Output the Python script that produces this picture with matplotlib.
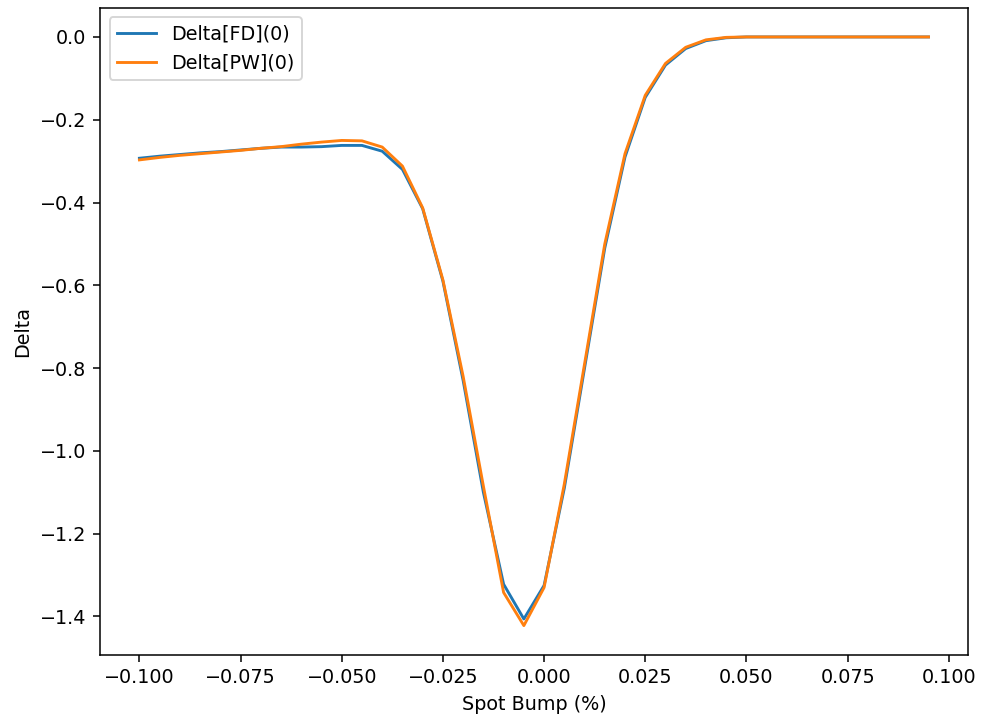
import numpy as np
import matplotlib.pyplot as plt

# spot bumps (%)
bumps = [-0.100, -0.095, -0.090, -0.085, -0.080, -0.075, -0.070, -0.065,
         -0.060, -0.055, -0.050, -0.045, -0.040, -0.035, -0.030, -0.025,
         -0.020, -0.015, -0.010, -0.005, 0.000, 0.005, 0.010, 0.015,
         0.020, 0.025, 0.030, 0.035, 0.040, 0.045, 0.050, 0.055,
         0.060, 0.065, 0.070, 0.075, 0.080, 0.085, 0.090, 0.095]

delta_fd = [-0.293, -0.288, -0.284, -0.280, -0.277, -0.273, -0.269, -0.266,
            -0.266, -0.265, -0.262, -0.262, -0.276, -0.320, -0.415, -0.590,
            -0.830, -1.100, -1.322, -1.406, -1.325, -1.090, -0.800, -0.510,
            -0.290, -0.146, -0.068, -0.028, -0.009, -0.002, 0.000, 0.000,
            0.000, 0.000, 0.000, 0.000, 0.000, 0.000, 0.000, 0.000]

delta_pw = [-0.297, -0.291, -0.286, -0.282, -0.278, -0.274, -0.269, -0.265,
            -0.259, -0.254, -0.250, -0.251, -0.266, -0.312, -0.413, -0.587,
            -0.820, -1.085, -1.342, -1.422, -1.330, -1.080, -0.790, -0.500,
            -0.282, -0.141, -0.064, -0.025, -0.007, -0.001, 0.000, 0.000,
            0.000, 0.000, 0.000, 0.000, 0.000, 0.000, 0.000, 0.000]

DPI = 138
fig = plt.figure(figsize=(982 / DPI, 723 / DPI), dpi=DPI)
ax = fig.add_axes([0.1018, 0.094, 0.8839, 0.8956])
ax.plot(bumps, delta_fd, label="Delta[FD](0)")
ax.plot(bumps, delta_pw, label="Delta[PW](0)")
ax.set_xlabel("Spot Bump (%)")
ax.set_ylabel("Delta")
ax.legend(loc="upper left")
fig.savefig("out.png", dpi=DPI)
